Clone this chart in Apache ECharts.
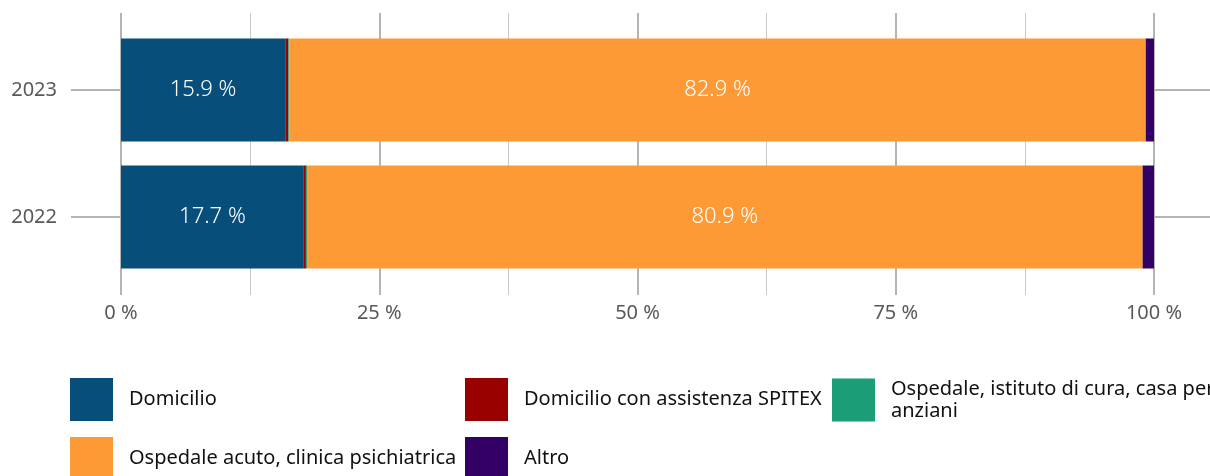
<!DOCTYPE html>
<html>
<head>
<meta charset="utf-8">
<script src="https://cdn.jsdelivr.net/npm/echarts@6/dist/echarts.min.js"></script>
<style>
html,body{margin:0;padding:0;background:#fff;}
#main{width:1210px;height:476px;}
</style>
</head>
<body>
<div id="main"></div>
<script>
var chart = echarts.init(document.getElementById('main'));

// anni (dal basso verso l'alto)
var years = ['2022', '2023'];
var seriesNames = ['Domicilio', 'Domicilio con assistenza SPITEX', 'Ospedale, istituto di cura, casa per anziani', 'Ospedale acuto, clinica psichiatrica', 'Altro'];
// valori in % per anno
var domicilio = [17.7, 15.9];
var spitex = [0.2, 0.3];
var istituto = [0.1, 0.1];
var acuto = [80.9, 82.9];
var altro = [1.1, 0.8];
var ticks = [0, 25, 50, 75, 100];

var colors = ['#084e7a', '#990000', '#1b9e77', '#fd9a35', '#330066'];
var values = [domicilio, spitex, istituto, acuto, altro];
var showLabel = [true, false, false, true, false];
var font = 'Noto Sans';

var series = [];
for (var i = 0; i < seriesNames.length; i++) {
    series.push({
        name: seriesNames[i],
        type: 'bar',
        stack: 'tot',
        barWidth: 103,
        xAxisIndex: 0,
        yAxisIndex: 0,
        data: values[i],
        itemStyle: { color: colors[i] },
        label: {
            show: showLabel[i],
            position: 'inside',
            color: '#fff',
            fontFamily: font,
            fontWeight: 300,
            fontSize: 22,
            formatter: function (p) { return p.value.toFixed(1) + ' %'; }
        }
    });
}

// una legenda per voce, per posizionarle come nell'originale
var legendPos = [[70, 378], [465, 378], [832, 378], [70, 437], [465, 437]];
var legends = [];
for (var k = 0; k < seriesNames.length; k++) {
    legends.push({
        left: legendPos[k][0],
        top: legendPos[k][1],
        padding: 0,
        data: [seriesNames[k]],
        icon: 'rect',
        itemWidth: 43,
        itemHeight: 43,
        selectedMode: false,
        formatter: function (n) {
            return n == seriesNames[2] ? 'Ospedale, istituto di cura, casa per\nanziani' : n;
        },
        textStyle: {
            fontFamily: font,
            fontSize: 20,
            color: '#111',
            lineHeight: 22,
            padding: [0, 0, 0, 11]
        }
    });
}

var option = {
    backgroundColor: '#fff',
    animation: false,
    legend: legends,
    grid: [
        { left: 121, right: 56, top: 26.5, height: 254 },
        { left: 121, right: 56, top: 13, height: 282 }
    ],
    xAxis: [{
        gridIndex: 0,
        type: 'value',
        min: 0,
        max: 100,
        show: false
    }, {
        gridIndex: 1,
        type: 'value',
        min: 0,
        max: 100,
        interval: 25,
        axisLine: { show: false },
        axisTick: { show: false },
        axisLabel: {
            margin: 8,
            color: '#595959',
            fontFamily: font,
            fontSize: 20,
            formatter: function (v) { return ticks.indexOf(v) >= 0 ? v + ' %' : ''; }
        },
        splitLine: { show: true, lineStyle: { color: '#b4b4b4', width: 2 } },
        minorTick: { show: false, splitNumber: 2 },
        minorSplitLine: { show: true, lineStyle: { color: '#c8c8c8', width: 1 } }
    }],
    yAxis: [{
        gridIndex: 0,
        type: 'category',
        data: years,
        axisLine: { show: false },
        axisTick: { show: true, alignWithLabel: true, length: 50, lineStyle: { color: '#b4b4b4', width: 2 } },
        axisLabel: { margin: 64, color: '#595959', fontFamily: font, fontSize: 20 },
        splitLine: { show: false }
    }, {
        gridIndex: 0,
        type: 'category',
        position: 'right',
        data: years,
        axisLine: { show: false },
        axisTick: { show: true, alignWithLabel: true, length: 56, lineStyle: { color: '#b4b4b4', width: 2 } },
        axisLabel: { show: false }
    }, {
        gridIndex: 1,
        type: 'value',
        show: false
    }],
    series: series
};

chart.setOption(option);
</script>
</body>
</html>
